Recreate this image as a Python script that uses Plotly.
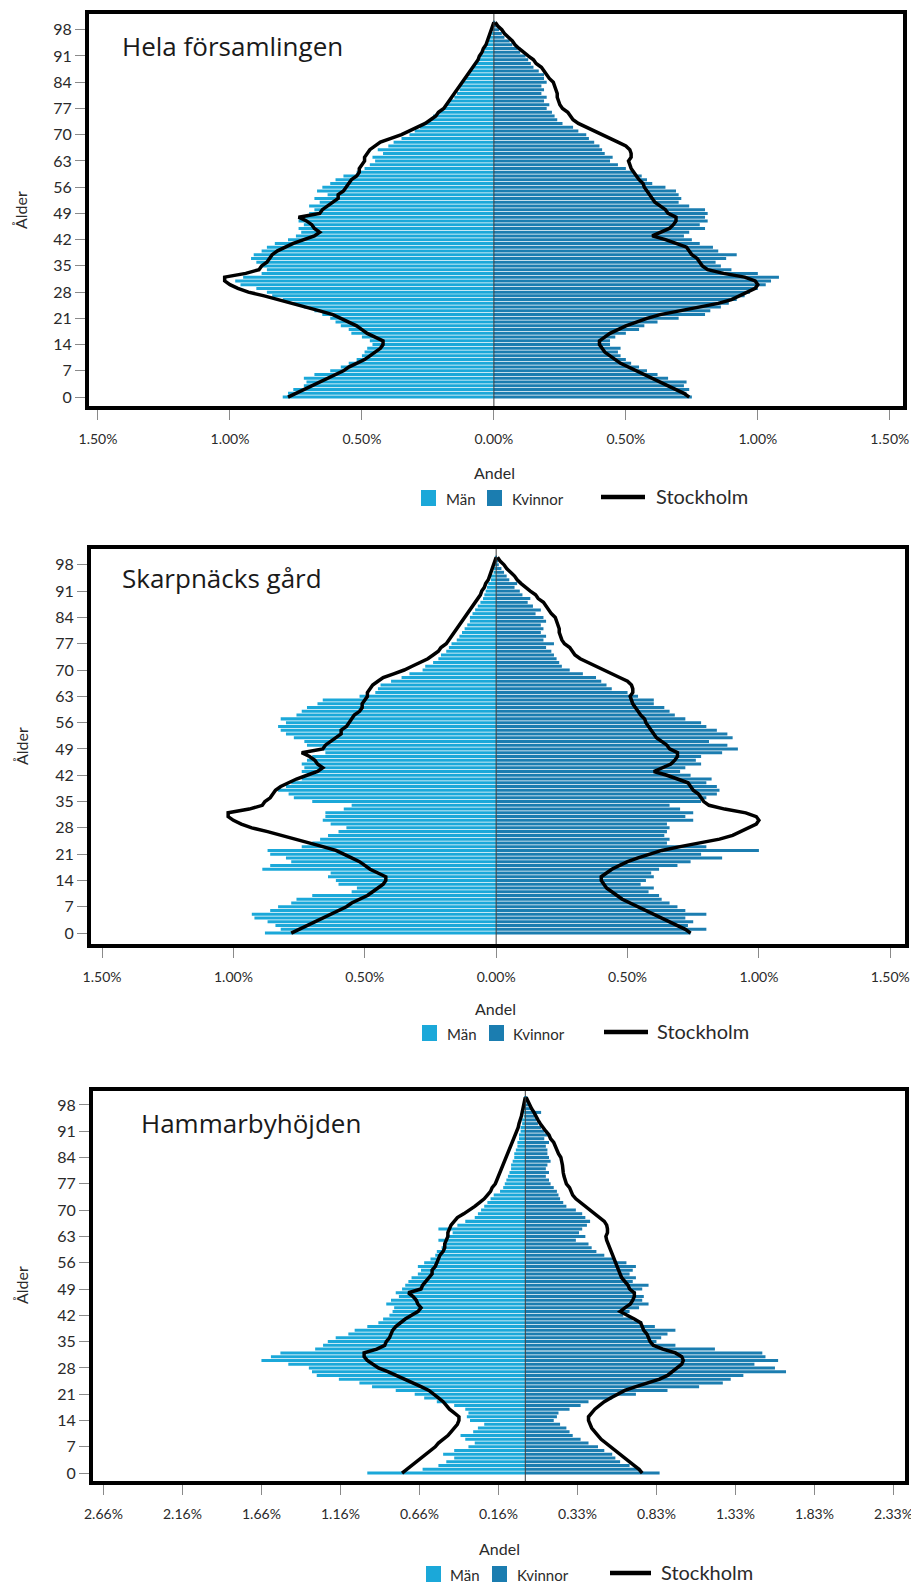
import plotly.graph_objects as go

W, H = 919, 1594

# ---------------- data ----------------
ages = list(range(101))
age_ticks = list(range(0, 99, 7))

x_ticks_std = [-1.5, -1.0, -0.5, 0.0, 0.5, 1.0, 1.5]
x_text_std = ["1.50%", "1.00%", "0.50%", "0.00%", "0.50%", "1.00%", "1.50%"]
x_ticks_hb = [-2.67, -2.17, -1.67, -1.17, -0.67, -0.17, 0.33, 0.83, 1.33, 1.83, 2.33]
x_text_hb = ["2.66%", "2.16%", "1.66%", "1.16%", "0.66%", "0.16%", "0.33%", "0.83%", "1.33%", "1.83%", "2.33%"]

# Stockholm reference (share in %, per age 0..100)
stockholm_man = [
    0.78, 0.75, 0.72, 0.69, 0.66, 0.63, 0.60, 0.57, 0.55, 0.52,
    0.49, 0.47, 0.45, 0.43, 0.42, 0.42, 0.45, 0.48, 0.50, 0.52,
    0.55, 0.58, 0.61, 0.66, 0.71, 0.77, 0.82, 0.87, 0.93, 0.97,
    1.00, 1.02, 1.02, 0.94, 0.89, 0.88, 0.86, 0.85, 0.84, 0.82,
    0.79, 0.76, 0.72, 0.68, 0.66, 0.68, 0.69, 0.71, 0.74, 0.66,
    0.65, 0.63, 0.61, 0.59, 0.59, 0.57, 0.56, 0.55, 0.54, 0.52,
    0.51, 0.51, 0.50, 0.49, 0.49, 0.48, 0.47, 0.45, 0.43, 0.39,
    0.35, 0.32, 0.29, 0.26, 0.24, 0.22, 0.21, 0.19, 0.18, 0.17,
    0.16, 0.15, 0.14, 0.13, 0.12, 0.11, 0.10, 0.09, 0.08, 0.07,
    0.06, 0.055, 0.045, 0.04, 0.03, 0.025, 0.02, 0.015, 0.01, 0.005,
    0.0]
stockholm_kvinnor = [
    0.74, 0.72, 0.69, 0.66, 0.63, 0.60, 0.57, 0.54, 0.51, 0.48,
    0.46, 0.44, 0.42, 0.41, 0.40, 0.40, 0.42, 0.44, 0.47, 0.50,
    0.54, 0.58, 0.63, 0.70, 0.78, 0.85, 0.90, 0.93, 0.96, 0.99,
    1.00, 0.99, 0.95, 0.87, 0.81, 0.79, 0.78, 0.77, 0.75, 0.74,
    0.73, 0.69, 0.65, 0.60, 0.63, 0.665, 0.68, 0.69, 0.69, 0.66,
    0.65, 0.63, 0.61, 0.60, 0.59, 0.58, 0.57, 0.565, 0.55, 0.54,
    0.53, 0.52, 0.515, 0.51, 0.52, 0.52, 0.515, 0.50, 0.47, 0.44,
    0.41, 0.38, 0.35, 0.32, 0.30, 0.29, 0.28, 0.26, 0.25, 0.245,
    0.24, 0.24, 0.235, 0.23, 0.225, 0.21, 0.20, 0.19, 0.18, 0.16,
    0.15, 0.13, 0.11, 0.095, 0.08, 0.07, 0.055, 0.04, 0.03, 0.015,
    0.005]

# Hela församlingen
hela_man = [
    0.80, 0.78, 0.76, 0.72, 0.71, 0.72, 0.68, 0.62, 0.58, 0.55,
    0.52, 0.50, 0.49, 0.48, 0.46, 0.47, 0.50, 0.54, 0.55, 0.58,
    0.60, 0.62, 0.65, 0.68, 0.72, 0.76, 0.80, 0.84, 0.86, 0.90,
    0.96, 0.98, 0.95, 0.88, 0.86, 0.88, 0.90, 0.92, 0.91, 0.88,
    0.86, 0.83, 0.78, 0.75, 0.73, 0.74, 0.72, 0.74, 0.72, 0.70,
    0.68, 0.70, 0.66, 0.68, 0.63, 0.67, 0.65, 0.62, 0.60, 0.57,
    0.52, 0.49, 0.47, 0.45, 0.46, 0.42, 0.44, 0.40, 0.38, 0.35,
    0.32, 0.30, 0.28, 0.26, 0.24, 0.23, 0.21, 0.19, 0.18, 0.17,
    0.15, 0.14, 0.13, 0.13, 0.12, 0.11, 0.10, 0.09, 0.08, 0.07,
    0.06, 0.05, 0.04, 0.035, 0.03, 0.02, 0.015, 0.01, 0.01, 0.005,
    0.003]
hela_kvinnor = [
    0.75, 0.73, 0.74, 0.72, 0.73, 0.66, 0.62, 0.58, 0.55, 0.52,
    0.50, 0.48, 0.47, 0.48, 0.44, 0.44, 0.46, 0.50, 0.55, 0.57,
    0.62, 0.70, 0.80, 0.82, 0.86, 0.89, 0.92, 0.95, 0.97, 1.00,
    1.03, 1.05, 1.08, 1.00, 0.90, 0.86, 0.84, 0.88, 0.92, 0.85,
    0.83, 0.78, 0.75, 0.72, 0.74, 0.80, 0.78, 0.81, 0.80, 0.81,
    0.80, 0.74, 0.70, 0.71, 0.70, 0.69, 0.65, 0.60, 0.58, 0.56,
    0.53, 0.50, 0.47, 0.44, 0.45, 0.42, 0.41, 0.40, 0.38, 0.36,
    0.35, 0.32, 0.30, 0.26, 0.24, 0.23, 0.22, 0.20, 0.21, 0.19,
    0.20, 0.18, 0.19, 0.18, 0.20, 0.19, 0.19, 0.17, 0.15, 0.14,
    0.13, 0.12, 0.10, 0.09, 0.07, 0.06, 0.04, 0.03, 0.02, 0.01,
    0.005]

# Skarpnäcks gård
skarp_man = [
    0.88, 0.82, 0.84, 0.87, 0.92, 0.93, 0.86, 0.83, 0.78, 0.76,
    0.70, 0.55, 0.53, 0.60, 0.61, 0.64, 0.63, 0.89, 0.86, 0.78,
    0.80, 0.86, 0.87, 0.74, 0.70, 0.67, 0.64, 0.60, 0.57, 0.63,
    0.66, 0.65, 0.65, 0.58, 0.55, 0.70, 0.77, 0.79, 0.83, 0.80,
    0.78, 0.74, 0.72, 0.74, 0.73, 0.74, 0.72, 0.70, 0.65, 0.66,
    0.72, 0.73, 0.77, 0.80, 0.82, 0.83, 0.80, 0.82, 0.76, 0.74,
    0.72, 0.68, 0.66, 0.52, 0.46, 0.45, 0.44, 0.40, 0.36, 0.33,
    0.28, 0.27, 0.24, 0.22, 0.21, 0.19, 0.18, 0.17, 0.15, 0.14,
    0.13, 0.12, 0.11, 0.10, 0.10, 0.09, 0.08, 0.07, 0.06, 0.05,
    0.045, 0.04, 0.035, 0.03, 0.02, 0.02, 0.01, 0.01, 0.005, 0.003,
    0.002]
skarp_kvinnor = [
    0.74, 0.80, 0.73, 0.75, 0.72, 0.80, 0.72, 0.69, 0.66, 0.63,
    0.62, 0.58, 0.60, 0.55, 0.57, 0.60, 0.59, 0.62, 0.69, 0.74,
    0.86, 0.78, 1.00, 0.80, 0.65, 0.66, 0.64, 0.65, 0.66, 0.65,
    0.75, 0.72, 0.75, 0.70, 0.66, 0.78, 0.80, 0.84, 0.85, 0.84,
    0.80, 0.82, 0.74, 0.70, 0.72, 0.78, 0.76, 0.78, 0.86, 0.92,
    0.88, 0.81, 0.90, 0.88, 0.84, 0.80, 0.78, 0.72, 0.68, 0.66,
    0.64, 0.60, 0.60, 0.54, 0.50, 0.44, 0.42, 0.40, 0.38, 0.33,
    0.28, 0.25, 0.24, 0.23, 0.22, 0.21, 0.19, 0.22, 0.18, 0.19,
    0.17, 0.18, 0.17, 0.19, 0.18, 0.15, 0.17, 0.14, 0.12, 0.13,
    0.10, 0.09, 0.07, 0.08, 0.05, 0.04, 0.03, 0.02, 0.01, 0.005,
    0.003]

# Hammarbyhöjden
hammar_man = [
    1.00, 0.65, 0.55, 0.50, 0.45, 0.52, 0.45, 0.36, 0.32, 0.38,
    0.41, 0.33, 0.30, 0.26, 0.35, 0.37, 0.36, 0.38, 0.45, 0.56,
    0.64, 0.70, 0.82, 0.97, 1.05, 1.18, 1.32, 1.35, 1.37, 1.50,
    1.67, 1.61, 1.55, 1.33, 1.28, 1.25, 1.20, 1.12, 1.08, 1.00,
    0.93, 0.90, 0.86, 0.84, 0.83, 0.88, 0.85, 0.80, 0.82, 0.78,
    0.76, 0.74, 0.72, 0.68, 0.66, 0.68, 0.64, 0.60, 0.57, 0.56,
    0.53, 0.51, 0.55, 0.50, 0.46, 0.55, 0.43, 0.38, 0.32, 0.30,
    0.28, 0.26, 0.24, 0.22, 0.20, 0.16, 0.14, 0.13, 0.12, 0.11,
    0.10, 0.09, 0.09, 0.08, 0.07, 0.07, 0.06, 0.05, 0.05, 0.04,
    0.04, 0.03, 0.03, 0.02, 0.02, 0.01, 0.01, 0.01, 0.005, 0.003,
    0.002]
hammar_kvinnor = [
    0.85, 0.72, 0.66, 0.60, 0.57, 0.55, 0.50, 0.46, 0.40, 0.35,
    0.30, 0.28, 0.26, 0.22, 0.18, 0.20, 0.21, 0.28, 0.35, 0.40,
    0.55, 0.70, 0.90, 1.10, 1.25, 1.30, 1.38, 1.65, 1.58, 1.45,
    1.60, 1.52, 1.50, 1.20, 0.95, 0.83, 0.86, 0.90, 0.95, 0.82,
    0.74, 0.68, 0.62, 0.66, 0.72, 0.78, 0.74, 0.75, 0.70, 0.74,
    0.78, 0.68, 0.70, 0.66, 0.68, 0.70, 0.64, 0.56, 0.50, 0.45,
    0.42, 0.40, 0.32, 0.38, 0.34, 0.36, 0.39, 0.41, 0.38, 0.36,
    0.32, 0.26, 0.24, 0.22, 0.21, 0.20, 0.18, 0.16, 0.15, 0.13,
    0.15, 0.13, 0.14, 0.16, 0.15, 0.14, 0.14, 0.13, 0.15, 0.12,
    0.15, 0.12, 0.10, 0.08, 0.07, 0.06, 0.10, 0.04, 0.03, 0.01,
    0.01]

# ---------------- style ----------------
MEN_COLOR = "#1ba8d9"
WOMEN_COLOR = "#1b7db0"
LINE_COLOR = "#000000"
YTICK_FONT = dict(family="Lato, sans-serif", size=16, color="#2a2a2a")
XTICK_FONT = dict(family="Lato, sans-serif", size=14, color="#2a2a2a")
TITLE_FONT = dict(family="Open Sans, sans-serif", size=26, color="#1a1a1a")
OFF = 8  # page body margin compensation (px)


def fx(p):
    return (p - OFF) / W


def fy(p):
    return 1 - (p - OFF) / H


panels = [
    dict(title="Hela församlingen", men=hela_man, women=hela_kvinnor,
         box=(87, 12, 905, 408), xr=(-1.534, 1.55), yr=(-2.38, 102.2),
         tv=x_ticks_std, tt=x_text_std, tpos=(120, 46), alder_y=210,
         andel=(494, 472), leg=(421, 444, 487, 510, 601, 645, 654, 498)),
    dict(title="Skarpnäcks gård", men=skarp_man, women=skarp_kvinnor,
         box=(89, 547, 907, 946), xr=(-1.542, 1.556), yr=(-2.9, 102.2),
         tv=x_ticks_std, tt=x_text_std, tpos=(120, 578), alder_y=746,
         andel=(496, 1008), leg=(422, 445, 489, 511, 604, 648, 655, 1033)),
    dict(title="Hammarbyhöjden", men=hammar_man, women=hammar_kvinnor,
         box=(91, 1089, 907, 1483), xr=(-2.736, 2.403), yr=(-2.1, 101.7),
         tv=x_ticks_hb, tt=x_text_hb, tpos=(139, 1123), alder_y=1285,
         andel=(500, 1548), leg=(426, 448, 492, 515, 610, 651, 659, 1574)),
]

fig = go.Figure()
layout = dict(
    width=W, height=H, autosize=False,
    margin=dict(l=0, r=0, t=0, b=0, pad=0, autoexpand=False),
    paper_bgcolor="white", plot_bgcolor="white",
    barmode="overlay", bargap=0.2, showlegend=False,
)
shapes = []
annotations = []

for i, p in enumerate(panels, start=1):
    s = "" if i == 1 else str(i)
    xa, ya = "x" + s, "y" + s
    fig.add_trace(go.Bar(y=ages, x=[-v for v in p["men"]], orientation="h",
                         marker=dict(color=MEN_COLOR, line=dict(width=0)),
                         name="Män", xaxis=xa, yaxis=ya))
    fig.add_trace(go.Bar(y=ages, x=p["women"], orientation="h",
                         marker=dict(color=WOMEN_COLOR, line=dict(width=0)),
                         name="Kvinnor", xaxis=xa, yaxis=ya))
    fig.add_trace(go.Scatter(x=[-v for v in stockholm_man], y=ages, mode="lines",
                             line=dict(color=LINE_COLOR, width=3.5),
                             name="Stockholm", xaxis=xa, yaxis=ya))
    fig.add_trace(go.Scatter(x=stockholm_kvinnor, y=ages, mode="lines",
                             line=dict(color=LINE_COLOR, width=3.5),
                             name="Stockholm", xaxis=xa, yaxis=ya))

    x0, y0, x1, y1 = p["box"]
    layout["xaxis" + s] = dict(
        domain=[fx(x0 + 2), fx(x1 - 2)], range=list(p["xr"]), anchor=ya,
        tickmode="array", tickvals=p["tv"], ticktext=p["tt"],
        ticks="outside", ticklen=10, tickcolor="#8a8a8a", tickwidth=1,
        ticklabelstandoff=7, automargin=False,
        showline=True, linewidth=4, linecolor="black", mirror=True,
        showgrid=False, zeroline=False, tickfont=XTICK_FONT, fixedrange=True,
    )
    layout["yaxis" + s] = dict(
        domain=[fy(y1 - 2), fy(y0 + 2)], range=list(p["yr"]), anchor=xa,
        tickmode="array", tickvals=age_ticks, automargin=False,
        ticks="outside", ticklen=10, tickcolor="#8a8a8a", tickwidth=1,
        showline=True, linewidth=4, linecolor="black", mirror=True,
        showgrid=False, zeroline=False, tickfont=YTICK_FONT, fixedrange=True,
    )
    # centre (zero) line
    shapes.append(dict(type="line", xref=xa, yref=ya + " domain", x0=0, x1=0, y0=0, y1=1,
                       line=dict(color="#3a3a3a", width=1), layer="above"))

    # panel title
    annotations.append(dict(text=p["title"], xref="paper", yref="paper",
                            x=fx(p["tpos"][0]), y=fy(p["tpos"][1]),
                            xanchor="left", yanchor="middle", showarrow=False,
                            font=TITLE_FONT))
    # axis titles
    annotations.append(dict(text="Ålder", xref="paper", yref="paper",
                            x=fx(21), y=fy(p["alder_y"]), textangle=-90,
                            xanchor="center", yanchor="middle", showarrow=False,
                            font=dict(family="Lato, sans-serif", size=16, color="#2a2a2a")))
    annotations.append(dict(text="Andel", xref="paper", yref="paper",
                            x=fx(p["andel"][0]), y=fy(p["andel"][1]),
                            xanchor="center", yanchor="middle", showarrow=False,
                            font=dict(family="Lato, sans-serif", size=16, color="#2a2a2a")))

    # legend (Män, Kvinnor, Stockholm)
    sq1, t1, sq2, t2, l0, l1, t3, ly = p["leg"]
    for sx, col in ((sq1, MEN_COLOR), (sq2, WOMEN_COLOR)):
        shapes.append(dict(type="rect", xref="paper", yref="paper",
                           x0=fx(sx), x1=fx(sx + 15), y0=fy(ly + 8), y1=fy(ly - 8),
                           fillcolor=col, line=dict(width=0)))
    shapes.append(dict(type="line", xref="paper", yref="paper",
                       x0=fx(l0), x1=fx(l1), y0=fy(ly - 1), y1=fy(ly - 1),
                       line=dict(color=LINE_COLOR, width=4.5)))
    for tx, txt, size in ((t1, "Män", 15), (t2, "Kvinnor", 15), (t3, "Stockholm", 20)):
        annotations.append(dict(text=txt, xref="paper", yref="paper",
                                x=fx(tx), y=fy(ly + (1 if size == 15 else -2)),
                                xanchor="left", yanchor="middle", showarrow=False,
                                font=dict(family="Lato, sans-serif", size=size, color="#2a2a2a")))

layout["shapes"] = shapes
layout["annotations"] = annotations
fig.update_layout(**layout)
fig.write_html("out.html")
